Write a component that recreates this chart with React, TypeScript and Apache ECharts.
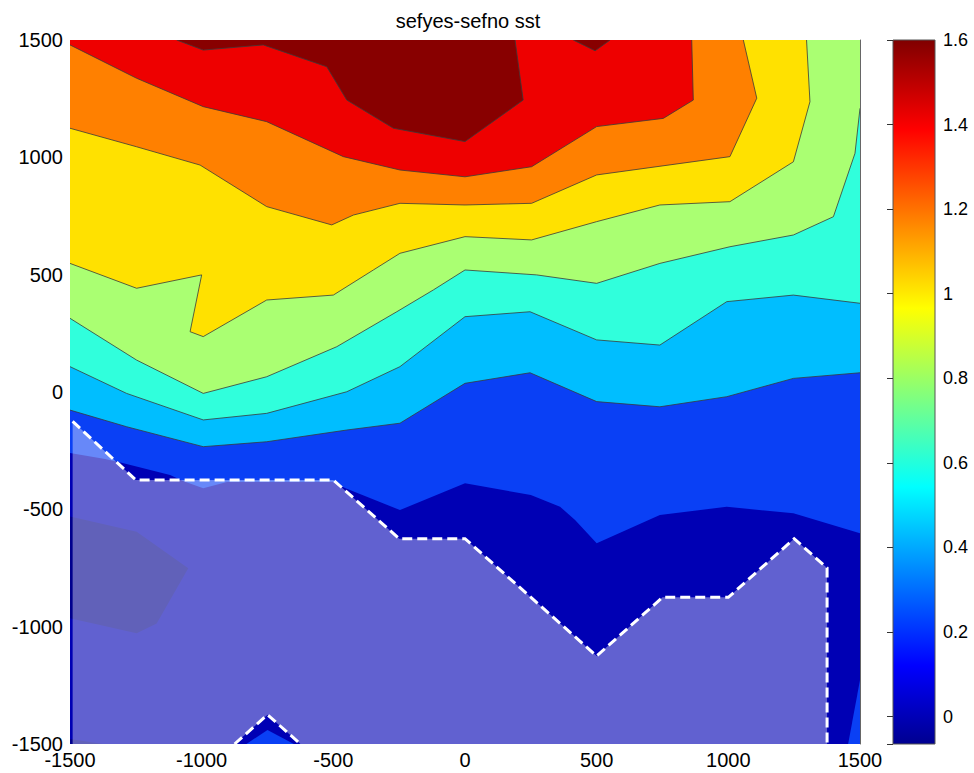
import { useEffect, useRef } from "react";
import * as echarts from "echarts";

const TITLE = "sefyes-sefno sst";
const X_MIN = -1500;
const X_MAX = 1500;
const Y_MIN = -1500;
const Y_MAX = 1500;
const AXIS_STEP = 500;
const CBAR_MIN = -0.065;
const CBAR_MAX = 1.6;
const CBAR_STEP = 0.2;

// Contour boundaries, [x, y] in data units (left -> right)
const LINE_0_2 = [[-1500, -260], [-1367, -286], [-1304, -301], [-1120, -354], [-1071, -379], [-994, -410], [-904, -383], [-501, -383], [-456, -409], [-247, -503], [0, -389], [250, -439], [361, -489], [418, -545], [500, -645], [740, -524], [994, -489], [1247, -517], [1500, -602]];
const LINE_0_4 = [[-1500, -77], [-1285, -148], [-994, -233], [-753, -212], [-449, -162], [-247, -133], [0, 37], [247, 82], [500, -41], [740, -63], [994, -20], [1247, 58], [1500, 82]];
const LINE_0_6 = [[-1500, 108], [-1285, -6], [-994, -119], [-753, -91], [-449, 1], [-247, 108], [0, 321], [247, 342], [500, 222], [740, 200], [994, 385], [1247, 413], [1500, 378]];
const LINE_0_8 = [[-1500, 314], [-1247, 136], [-994, -6], [-753, 65], [-487, 193], [-259, 342], [-120, 435], [0, 520], [272, 499], [500, 463], [740, 548], [1006, 619], [1247, 669], [1399, 747], [1481, 1017], [1500, 1209]];
const LINE_1_0 = [[-1500, 548], [-1247, 442], [-1000, 499], [-1044, 257], [-994, 236], [-753, 392], [-500, 413], [-348, 520], [-247, 591], [0, 662], [253, 648], [500, 726], [740, 797], [1006, 811], [1247, 981], [1310, 1237], [1297, 1500]];
const LINE_1_2 = [[-1500, 1124], [-1247, 1045], [-1006, 967], [-753, 790], [-506, 712], [-424, 754], [-247, 804], [0, 797], [253, 804], [500, 925], [1006, 1003], [1108, 1252], [1057, 1500]];
const LINE_1_4 = [[-1500, 1479], [-1247, 1337], [-994, 1216], [-753, 1152], [-462, 1003], [-247, 946], [0, 917], [253, 960], [500, 1131], [753, 1166], [867, 1244], [861, 1500]];
const PEAK_1_6_A = [[-1095, 1500], [-994, 1457], [-766, 1479], [-525, 1386], [-449, 1244], [-272, 1124], [0, 1067], [221, 1244], [190, 1500]];
const PEAK_1_6_B = [[411, 1500], [494, 1454], [551, 1500]];
const LOW_A = [[-1500, -531], [-1247, -595], [-1051, -751], [-1171, -986], [-1247, -1028], [-1500, -964]];
const LOW_B = [[-1500, -1479], [-1375, -1500], [-1500, -1500]];
const BLUE_PATCH_A = [[1455, -1500], [1500, -1227], [1500, -1500]];
const BLUE_PATCH_B = [[-830, -1500], [-750, -1440], [-650, -1500]];

// masked (land / bottom) region
const MASK = [[-1490, -125], [-1250, -375], [-500, -375], [-250, -625], [0, -625], [500, -1125], [750, -875], [1000, -875], [1250, -625], [1375, -750], [1375, -1500], [-625, -1500], [-750, -1375], [-875, -1500], [-1490, -1500]];
const MASK_EDGE_A = [[-1490, -125], [-1250, -375], [-500, -375], [-250, -625], [0, -625], [500, -1125], [750, -875], [1000, -875], [1250, -625], [1375, -750], [1375, -1500]];
const MASK_EDGE_B = [[-875, -1500], [-750, -1375], [-625, -1500]];

const COLORS = {
  low: "#00008E",
  base: "#0000B4",
  blue: "#0A40F5",
  light: "#00BEFF",
  cyan: "#30FFDC",
  green: "#AAFF72",
  yellow: "#FFE100",
  orange: "#FF8000",
  red: "#EE0000",
  peak: "#880000",
};

const JET_STOPS = [
  { offset: 0, color: "#000090" },
  { offset: 0.111, color: "#0000FF" },
  { offset: 0.365, color: "#00FFFF" },
  { offset: 0.619, color: "#FFFF00" },
  { offset: 0.873, color: "#FF0000" },
  { offset: 1, color: "#800000" },
];

function above(line: number[][]) {
  const pts = line.slice();
  const last = pts[pts.length - 1];
  if (last[0] === X_MAX) pts.push([X_MAX, Y_MAX]);
  pts.push([X_MIN, Y_MAX]);
  return pts;
}

type Shape = { kind: "polygon" | "polyline"; pts: number[][]; style: any };

const FONT = "Liberation Sans, Arial, Helvetica, sans-serif";

export default function App() {
  const ref = useRef<HTMLDivElement>(null);
  useEffect(() => {
    if (!ref.current) return;
    const chart = echarts.init(ref.current, null, { renderer: "svg" });
    const lineStyle = { stroke: "#3a3a3a", lineWidth: 0.8, fill: null };
    const shapes: Shape[] = [
      { kind: "polygon", pts: [[X_MIN, Y_MIN], [X_MAX, Y_MIN], [X_MAX, Y_MAX], [X_MIN, Y_MAX]], style: { fill: COLORS.base } },
      { kind: "polygon", pts: LOW_A, style: { fill: COLORS.low } },
      { kind: "polygon", pts: LOW_B, style: { fill: COLORS.low } },
      { kind: "polygon", pts: above(LINE_0_2), style: { fill: COLORS.blue } },
      { kind: "polygon", pts: BLUE_PATCH_A, style: { fill: COLORS.blue } },
      { kind: "polygon", pts: BLUE_PATCH_B, style: { fill: COLORS.blue } },
      { kind: "polygon", pts: above(LINE_0_4), style: { fill: COLORS.light } },
      { kind: "polygon", pts: above(LINE_0_6), style: { fill: COLORS.cyan } },
      { kind: "polygon", pts: above(LINE_0_8), style: { fill: COLORS.green } },
      { kind: "polygon", pts: above(LINE_1_0), style: { fill: COLORS.yellow } },
      { kind: "polygon", pts: above(LINE_1_2), style: { fill: COLORS.orange } },
      { kind: "polygon", pts: above(LINE_1_4), style: { fill: COLORS.red } },
      { kind: "polygon", pts: PEAK_1_6_A, style: { fill: COLORS.peak } },
      { kind: "polygon", pts: PEAK_1_6_B, style: { fill: COLORS.peak } },
      { kind: "polyline", pts: LINE_0_4, style: lineStyle },
      { kind: "polyline", pts: LINE_0_6, style: lineStyle },
      { kind: "polyline", pts: LINE_0_8, style: lineStyle },
      { kind: "polyline", pts: LINE_1_0, style: lineStyle },
      { kind: "polyline", pts: LINE_1_2, style: lineStyle },
      { kind: "polyline", pts: LINE_1_4, style: lineStyle },
      { kind: "polyline", pts: PEAK_1_6_A, style: lineStyle },
      { kind: "polyline", pts: PEAK_1_6_B, style: lineStyle },
      { kind: "polygon", pts: MASK, style: { fill: "rgba(255,255,255,0.38)" } },
      { kind: "polyline", pts: MASK_EDGE_A, style: { stroke: "#ffffff", lineWidth: 3, lineDash: [10, 5], fill: null } },
      { kind: "polyline", pts: MASK_EDGE_B, style: { stroke: "#ffffff", lineWidth: 3, lineDash: [10, 5], fill: null } },
    ];

    const cbarLabel = (v: number) => {
      const k = v / CBAR_STEP;
      if (Math.abs(k - Math.round(k)) > 1e-6) return "";
      return String(+v.toFixed(1));
    };
    const plain = (v: number) => String(v);

    chart.setOption({
      animation: false,
      title: {
        text: TITLE,
        left: 463,
        textAlign: "center",
        top: 6,
        textStyle: { fontFamily: FONT, fontSize: 20, fontWeight: "normal", color: "#000" },
      },
      grid: [
        { left: 70, top: 40, width: 790, height: 704 },
        { left: 893, top: 40, width: 42, height: 704 },
      ],
      xAxis: [
        {
          type: "value", gridIndex: 0, min: X_MIN, max: X_MAX, interval: AXIS_STEP,
          axisLine: { show: false }, axisTick: { show: false }, splitLine: { show: false },
          axisLabel: { fontFamily: FONT, fontSize: 20, lineHeight: 14, color: "#000", margin: 9, formatter: plain },
        },
        { type: "value", gridIndex: 1, min: 0, max: 1, show: false },
      ],
      yAxis: [
        {
          type: "value", gridIndex: 0, min: Y_MIN, max: Y_MAX, interval: AXIS_STEP,
          axisLine: { show: false }, axisTick: { show: false }, splitLine: { show: false },
          axisLabel: { fontFamily: FONT, fontSize: 20, lineHeight: 14, color: "#000", margin: 7, formatter: plain },
        },
        {
          type: "value", gridIndex: 1, min: CBAR_MIN, max: CBAR_MAX, splitNumber: 8, position: "right",
          z: 10,
          axisLine: { show: false },
          axisTick: { show: true, inside: true, length: 6, lineStyle: { color: "#333" } },
          splitLine: { show: false },
          axisLabel: { fontFamily: FONT, fontSize: 18, color: "#000", margin: 8, formatter: cbarLabel },
        },
        {
          type: "value", gridIndex: 0, min: Y_MIN, max: Y_MAX, position: "right", z: 10,
          axisLine: { show: true, lineStyle: { color: "#666", width: 1 } },
          axisTick: { show: false }, axisLabel: { show: false }, splitLine: { show: false },
        },
      ],
      series: [
        {
          type: "custom",
          xAxisIndex: 0,
          yAxisIndex: 0,
          clip: true,
          data: shapes.map((_, i) => [0, 0, i]),
          encode: { x: 0, y: 1 },
          renderItem: (params: any, api: any) => {
            const s = shapes[params.dataIndex];
            return {
              type: s.kind,
              shape: { points: s.pts.map((p) => api.coord(p)) },
              style: s.style,
            };
          },
        },
        {
          type: "custom",
          xAxisIndex: 1,
          yAxisIndex: 1,
          data: [[0, CBAR_MIN, CBAR_MAX]],
          encode: { x: 0, y: 1 },
          renderItem: (_params: any, api: any) => {
            const tl = api.coord([0, CBAR_MAX]);
            const br = api.coord([1, CBAR_MIN]);
            return {
              type: "rect",
              shape: { x: tl[0], y: tl[1], width: br[0] - tl[0], height: br[1] - tl[1] },
              style: {
                fill: new echarts.graphic.LinearGradient(0, 1, 0, 0, JET_STOPS),
                stroke: "#555",
                lineWidth: 1,
              },
            };
          },
        },
      ],
    });
    return () => chart.dispose();
  }, []);
  return (
    <div
      ref={ref}
      style={{ position: "fixed", left: 0, top: 0, width: 974, height: 773, background: "#fff" }}
    />
  );
}
